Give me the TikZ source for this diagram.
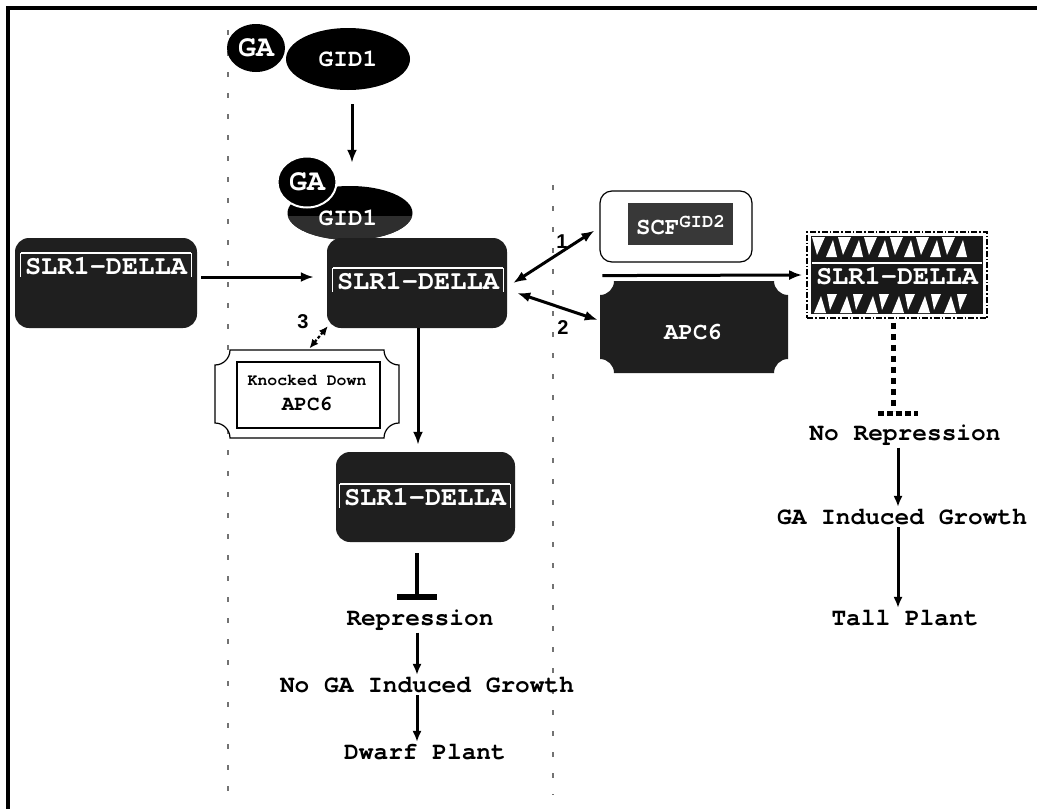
\documentclass[tikz,border=0pt]{standalone}
\usepackage{fontspec}
\setmainfont{TeX Gyre Cursor}
\newfontfamily\labfont{Liberation Sans}
\usetikzlibrary{arrows.meta,shapes.geometric,calc}

\newcommand\tktshape[6]{%
  \path[#6] (#1+#5,#2) -- (#3-#5,#2)
    .. controls (#3-#5,#2+0.55*#5) and (#3-0.55*#5,#2+#5) .. (#3,#2+#5)
    -- (#3,#4-#5)
    .. controls (#3-0.55*#5,#4-#5) and (#3-#5,#4-0.55*#5) .. (#3-#5,#4)
    -- (#1+#5,#4)
    .. controls (#1+#5,#4-0.55*#5) and (#1+0.55*#5,#4-#5) .. (#1,#4-#5)
    -- (#1,#2+#5)
    .. controls (#1+0.55*#5,#2+#5) and (#1+#5,#2+0.55*#5) .. cycle;}

\begin{document}
\begin{tikzpicture}[x=1pt,y=-1pt,
  darkbox/.style={fill=black!88, draw=none, rounded corners=14pt, inner sep=0pt},
  slrtxt/.style={text=white, font=\fontsize{27}{28}\selectfont\bfseries, inner sep=2pt},
  lbl/.style={font=\fontsize{24.5}{28}\selectfont\bfseries, inner sep=2pt},
  arr/.style={line width=3pt, -{Latex[length=13pt,width=10pt]}},
  sarr/.style={line width=3pt, -{Latex[length=11pt,width=9pt]}},
  darr/.style={line width=3pt, {Latex[length=13pt,width=10pt]}-{Latex[length=13pt,width=10pt]}},
  num/.style={font=\labfont\fontsize{20}{22}\selectfont\bfseries, inner sep=0pt},
  guide/.style={black!55, line width=1.2pt, dash pattern=on 5pt off 16pt},
  blob/.style={ellipse, fill=black, inner sep=0pt},
  gatxt/.style={text=white, font=\fontsize{30}{32}\selectfont\bfseries, inner sep=0pt},
  gidtxt/.style={text=white, font=\fontsize{24.5}{26}\selectfont\bfseries, inner sep=0pt}
]
\useasboundingbox (0,0) rectangle (1037,809);
\fill[white] (0,0) rectangle (1037,809);

% frame and guide lines
\draw[line width=3.5pt] (8,809) -- (8,8) -- (1037,8);
\draw[guide] (228,30) -- (228,800);
\draw[guide] (553,185) -- (553,795);

% top GA / GID1
\node[blob, minimum width=124pt, minimum height=62pt] (g1) at (348,59) {};
\node[blob, minimum width=58pt, minimum height=48pt] (ga1) at (256,48) {};
\node[gatxt] (ga1t) at (ga1.center) {GA};
\node[gidtxt] (g1t) at (g1.center) {GID1};

% lower GA / GID1
\node[blob, minimum width=125pt, minimum height=54pt] (g2) at (350,213) {};
\begin{scope}
  \clip (g2.center) ellipse (62.5 and 27);
  \fill[black!82] (280,216) rectangle (420,245);
\end{scope}
\node[blob, draw=white, line width=2pt, minimum width=59pt, minimum height=51pt] (ga2) at (307,182) {};
\node[gatxt] (ga2t) at (ga2.center) {GA};
\node[gidtxt] (g2t) at (348,218) {GID1};

\draw[arr] ($(g1.south)+(4,14)$) -- ($(g2.north)+(2,-23)$);

% SLR1-DELLA boxes
\node[darkbox, minimum width=182pt, minimum height=90pt] (lbox) at (106,283) {};
\node[darkbox, minimum width=180pt, minimum height=90pt] (cbox) at (417,283) {};
\node[darkbox, minimum width=179pt, minimum height=90pt] (low) at (425.5,497) {};
\node[slrtxt] (lboxt) at (106,266) {SLR1-DELLA};
\node[slrtxt] (cboxt) at (418,281) {SLR1-DELLA};
\node[slrtxt] (lowt) at (425,497) {SLR1-DELLA};
\foreach \t in {lboxt,cboxt,lowt}{
  \draw[white, line width=1.5pt] ($(\t.north west)+(-2,-2)$) -- ($(\t.north east)+(2,-2)$);
  \draw[white, line width=1.2pt] ($(\t.north west)+(-2,-2)$) -- ($(\t.south west)+(-2,0)$);
  \draw[white, line width=1.2pt] ($(\t.north east)+(2,-2)$) -- ($(\t.south east)+(2,0)$);
}

\draw[arr] ($(lbox.east)+(4,-6)$) -- ($(cbox.west)+(-13,-6)$);

% SCF box
\node[draw, line width=1.2pt, rounded corners=12pt, minimum width=152pt, minimum height=71pt, fill=white] (scf) at (676,226.5) {};
\node[fill=black!78, minimum width=105pt, minimum height=42pt, inner sep=0pt] (scfin) at (680.5,224) {};
\node[text=white, font=\fontsize{24}{26}\selectfont\bfseries, inner sep=0pt] (scft) at (680.5,225)
  {SCF\raisebox{7pt}{\fontsize{19}{20}\selectfont GID2}};

% APC6 black ticket
\tktshape{600}{281}{788}{373}{14}{fill=black!88}
\node[minimum width=188pt, minimum height=92pt, inner sep=0pt] (apc) at (694,327) {};
\node[text=white, font=\fontsize{24}{26}\selectfont\bfseries, inner sep=0pt] (apct) at (693,332) {APC6};

% Knocked down APC6 ticket
\tktshape{215}{350}{399}{438}{15}{draw=black, line width=1.2pt, fill=white}
\node[draw, line width=1.2pt, minimum width=143pt, minimum height=66pt, inner sep=0pt] (kd) at (308.5,395) {};
\node[font=\fontsize{16.5}{18}\selectfont\bfseries, inner sep=0pt] (kdt1) at (307,380) {Knocked Down};
\node[font=\fontsize{21}{23}\selectfont\bfseries, inner sep=0pt] (kdt2) at (307,404) {APC6};

% degraded SLR1-DELLA
\node[draw, line width=1.6pt, dash pattern=on 6pt off 2pt on 1.5pt off 2pt, minimum width=180pt, minimum height=86pt, inner sep=0pt] (brk) at (897,275) {};
\fill[black!90] (811,236) rectangle (983,314);
\foreach \x in {812,838,...,960}{
  \fill[white] (\x,237) -- (\x+13,237) -- (\x+5,255) -- cycle;
  \fill[white] (\x+14,257) -- (\x+25,257) -- (\x+21,240) -- cycle;
  \fill[white] (\x+2,313) -- (\x+14,313) -- (\x+9,296) -- cycle;
  \fill[white] (\x+15,294) -- (\x+25,294) -- (\x+18,310) -- cycle;
}
\fill[black!90] (812,259) rectangle (982,292);
\node[slrtxt] (brkt) at (897,276) {SLR1-DELLA};
\draw[white, line width=1.5pt] ($(brkt.north west)+(-2,-2)$) -- ($(brkt.north east)+(2,-2)$);

% interaction arrows
\draw[darr] ($(cbox.east)+(6,0)$) -- ($(scf.south west)+(-5,-32)$);
\draw[darr] ($(cbox.east)+(10,10)$) -- ($(apc.west)+(-2,-7)$);
\node[num] (n1) at (562,242) {1};
\node[num] (n2) at (563,328) {2};
\draw[line width=2.2pt, dash pattern=on 3pt off 2pt, {Latex[length=9pt,width=8pt]}-{Latex[length=9pt,width=8pt]}] ($(kd.north)+(1,-13)$) -- ($(cbox.south west)+(1,-2)$);
\node[num] (n3) at (303,322) {3};
\draw[arr] ($(scf.south west)+(3,13)$) -- ($(brk.west)+(-4,0)$);
\draw[arr] ($(cbox.south)+(1,0)$) -- ($(cbox.south |- low.north)+(1,-7)$);

% left outcome
\node[lbl] (rep) at (420,620) {Repression};
\node[lbl] (nogr) at (427,685) {No GA Induced Growth};
\node[lbl] (dwarf) at (425,752) {Dwarf Plant};
\draw[line width=3.5pt] ($(low.south)+(-8.5,11)$) -- ($(low.south)+(-8.5,55)$);
\draw[line width=6pt] ($(low.south)+(-28.5,55)$) -- ($(low.south)+(11.5,55)$);
\draw[sarr] ($(rep.south)+(-3,0)$) -- ($(rep.south |- nogr.north)+(-3,0)$);
\draw[sarr] ($(nogr.south)+(-10,0)$) -- ($(nogr.south |- dwarf.north)+(-10,0)$);

% right outcome
\node[lbl] (norep) at (905,435) {No Repression};
\node[lbl] (gagr) at (902,517) {GA Induced Growth};
\node[lbl] (tall) at (905,618) {Tall Plant};
\draw[line width=5pt, dash pattern=on 6pt off 5pt] ($(brk.south)+(-4,4)$) -- ($(brk.south)+(-4,92)$);
\draw[line width=5pt, dash pattern=on 6pt off 3pt] ($(brk.south)+(-19,95)$) -- ($(brk.south)+(21,95)$);
\draw[sarr] ($(norep.south)+(-7,0)$) -- ($(norep.south |- gagr.north)+(-7,0)$);
\draw[sarr] ($(gagr.south)+(-4,0)$) -- ($(gagr.south |- tall.north)+(-4,0)$);
\end{tikzpicture}
\end{document}
